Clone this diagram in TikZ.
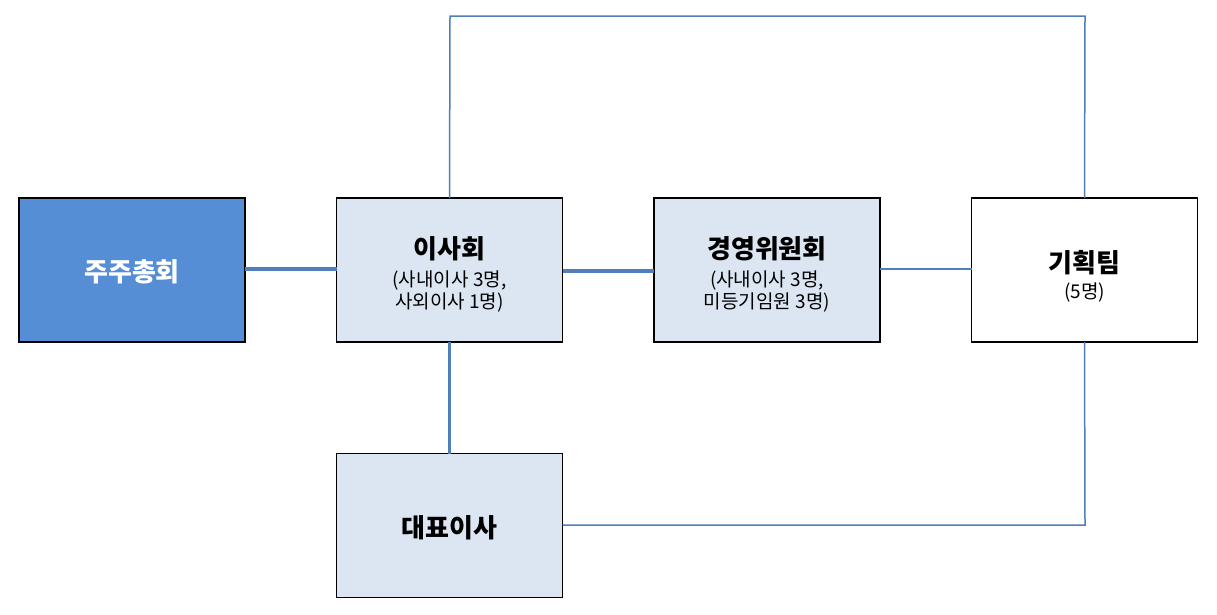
\documentclass[tikz,border=0pt]{standalone}
\usepackage{fontspec}
\setmainfont{Noto Sans CJK KR}
\definecolor{darkfill}{HTML}{558ED5}
\definecolor{lightfill}{HTML}{DCE6F2}
\definecolor{linkcol}{HTML}{4F7FB8}
\begin{document}
\begin{tikzpicture}[x=1pt,y=-1pt,
  box/.style={draw=black,line width=1.4pt,minimum width=226pt,minimum height=144pt,inner sep=0pt,outer sep=0pt},
  title/.style={font=\bfseries\fontsize{26}{28}\selectfont,inner sep=0pt},
  sub/.style={font=\fontsize{19}{21}\selectfont,inner sep=0pt},
  thick link/.style={draw=linkcol,line width=3.2pt},
  thin link/.style={draw=linkcol,line width=1.5pt},
]
\useasboundingbox (0,0) rectangle (1217,614);
\fill[white] (0,0) rectangle (1217,614);

\node[box,fill=darkfill] (ga) at (132,270) {};
\node[box,fill=lightfill] (bd) at (449.5,270) {};
\node[box,fill=lightfill] (mc) at (767,270) {};
\node[box,fill=white] (pt) at (1084.5,270) {};
\node[box,fill=lightfill] (ceo) at (449.5,525.5) {};

\node[title,text=white] (gat) at (132,271.5) {주주총회};
\node[title] (bdt) at (449.5,248.5) {이사회};
\node[sub] (bds1) at (449.5,280) {(사내이사 3명,};
\node[sub] (bds2) at (449.5,302.5) {사외이사 1명)};
\node[title] (mct) at (767,248.5) {경영위원회};
\node[sub] (mcs1) at (767,280) {(사내이사 3명,};
\node[sub] (mcs2) at (767,302.5) {미등기임원 3명)};
\node[title] (ptt) at (1084.5,262.5) {기획팀};
\node[sub] (pts) at (1084.5,292) {(5명)};
\node[title] (ceot) at (449.5,527.5) {대표이사};

\coordinate (tl) at (450,16);
\coordinate (tr) at (1085,16);
\coordinate (br) at (1085,525);

\path[thick link] (ga.east |- 0,269) -- (bd.west |- 0,269);
\path[thick link] (bd.east |- 0,271) -- (mc.west |- 0,271);
\path[thin link] (mc.east |- 0,269) -- (pt.west |- 0,269);
\path[thick link] (bd.south) -- (ceo.north);
\path[thin link] (bd.north) -- (tl) -- (tr) -- (pt.north);
\path[thin link] (ceo.east |- br) -- (br) -- (pt.south);
\end{tikzpicture}
\end{document}
